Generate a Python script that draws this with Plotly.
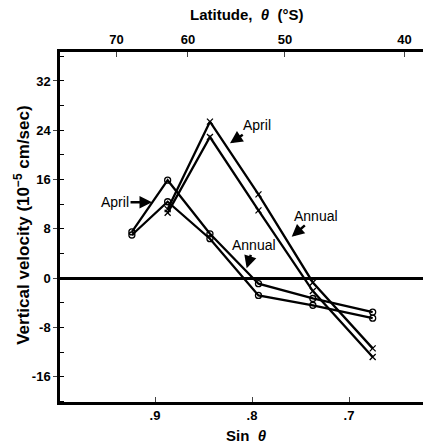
import numpy as np
import plotly.graph_objects as go

# Band-centre latitudes (deg S) and their sines
latitudes = [67.5, 62.5, 57.5, 52.5, 47.5, 42.5]
sin_lat = [float(np.sin(np.radians(v))) for v in latitudes]

# Vertical velocity (1e-5 cm/sec)
april_circle = [7.5, 15.9, 7.2, -0.9, -3.3, -5.5]
annual_circle = [7.0, 12.4, 6.4, -2.8, -4.4, -6.5]
april_cross = [None, 11.2, 25.4, 13.6, -0.7, -11.4]
annual_cross = [None, 10.6, 22.9, 11.0, -2.1, -12.8]

y_ticks = [-16, -8, 0, 8, 16, 24, 32]
top_lat_ticks = [70, 60, 50, 40]
bottom_ticks = [0.9, 0.8, 0.7]
bottom_labels = [".9", ".8", ".7"]

FONT = "Liberation Sans Narrow, Arial Narrow, Liberation Sans, sans-serif"
ANN_FONT = "Liberation Sans, Arial, sans-serif"

fig = go.Figure()
for ys, sym in [(april_circle, "circle-open"), (annual_circle, "circle-open"),
                (april_cross, "x-thin-open"), (annual_cross, "x-thin-open")]:
    fig.add_trace(go.Scatter(
        x=sin_lat, y=ys, mode="lines+markers",
        line=dict(color="black", width=2.3),
        marker=dict(symbol=sym, size=6, color="black",
                    line=dict(color="black", width=1.3)),
        showlegend=False, hoverinfo="skip", connectgaps=False,
        cliponaxis=False))

# invisible trace to carry the top (latitude) axis
fig.add_trace(go.Scatter(x=sin_lat, y=april_circle, xaxis="x2", mode="lines",
                         opacity=0, showlegend=False, hoverinfo="skip"))

tickfont = dict(family=FONT, size=13, color="black")
xr = [0.998, 0.6237]
fig.update_layout(
    width=423, height=443,
    margin=dict(l=60, r=0, t=52, b=41, autoexpand=False),
    paper_bgcolor="white", plot_bgcolor="white", hovermode=False,
    font=dict(family=FONT, color="black", size=12),
    xaxis=dict(range=xr, tickvals=bottom_ticks,
               ticktext=[f"<b>{t}</b>" for t in bottom_labels],
               showgrid=False, zeroline=False, showline=True, linewidth=2.5,
               linecolor="black", ticks="inside", ticklen=5, tickwidth=1,
               tickfont=tickfont, automargin=False),
    xaxis2=dict(range=xr, overlaying="x", side="top", anchor="y",
                tickvals=[float(np.sin(np.radians(v))) for v in top_lat_ticks],
                ticktext=[f"<b>{v}</b>" for v in top_lat_ticks],
                showgrid=False, zeroline=False, showline=True, linewidth=2.5,
                linecolor="black", ticks="inside", ticklen=5, tickwidth=1,
                tickfont=tickfont, automargin=False),
    yaxis=dict(range=[-20.1, 36.7], tickvals=y_ticks,
               ticktext=[f"<b>{v}</b>" for v in y_ticks],
               showgrid=False, zeroline=True, zerolinewidth=2.5,
               zerolinecolor="black", showline=True, linewidth=2.5,
               linecolor="black", ticks="outside", ticklen=4, tickwidth=1,
               minor=dict(dtick=4, ticks="inside", ticklen=4, tickwidth=1,
                          tickcolor="black", showgrid=False),
               tickfont=tickfont, automargin=False),
)

# axis titles
fig.add_annotation(text="<b>Latitude,  <i>θ</i>  (°S)</b>", xref="paper", yref="paper",
                   x=0.515, y=1.106, showarrow=False, xanchor="center", yanchor="middle",
                   font=dict(family=FONT, size=15, color="black"))
fig.add_annotation(text="<b>Sin  <i>θ</i></b>", xref="paper", yref="paper",
                   x=0.515, y=-0.097, showarrow=False, xanchor="center", yanchor="middle",
                   font=dict(family=FONT, size=15, color="black"))
fig.add_annotation(text="<b>Vertical velocity (10<sup>−5</sup> cm/sec)</b>",
                   xref="paper", yref="paper", x=-0.105, y=0.506, textangle=-90,
                   showarrow=False, xanchor="center", yanchor="middle",
                   font=dict(family=FONT, size=17, color="black"))

def label(text, tx, ty, ax, ay):
    fig.add_annotation(x=tx, y=ty, xref="x", yref="y", text=text,
                       showarrow=True, arrowhead=2, arrowsize=1.0, arrowwidth=2.5,
                       arrowcolor="black", ax=ax, ay=ay,
                       font=dict(family=ANN_FONT, size=14, color="black"),
                       xanchor="center", yanchor="middle")

# annotation targets expressed in data space
label("April", 0.9031, 12.3, -37, 0)
label("April", 0.8227, 21.9, 27, -18)
label("Annual", 0.7591, 6.7, 24, -21)
label("Annual", 0.8055, 1.6, 7, -23)

fig.write_html("out.html", config={"displayModeBar": False},
               post_script="document.body.style.margin='0';document.body.style.padding='0';")
